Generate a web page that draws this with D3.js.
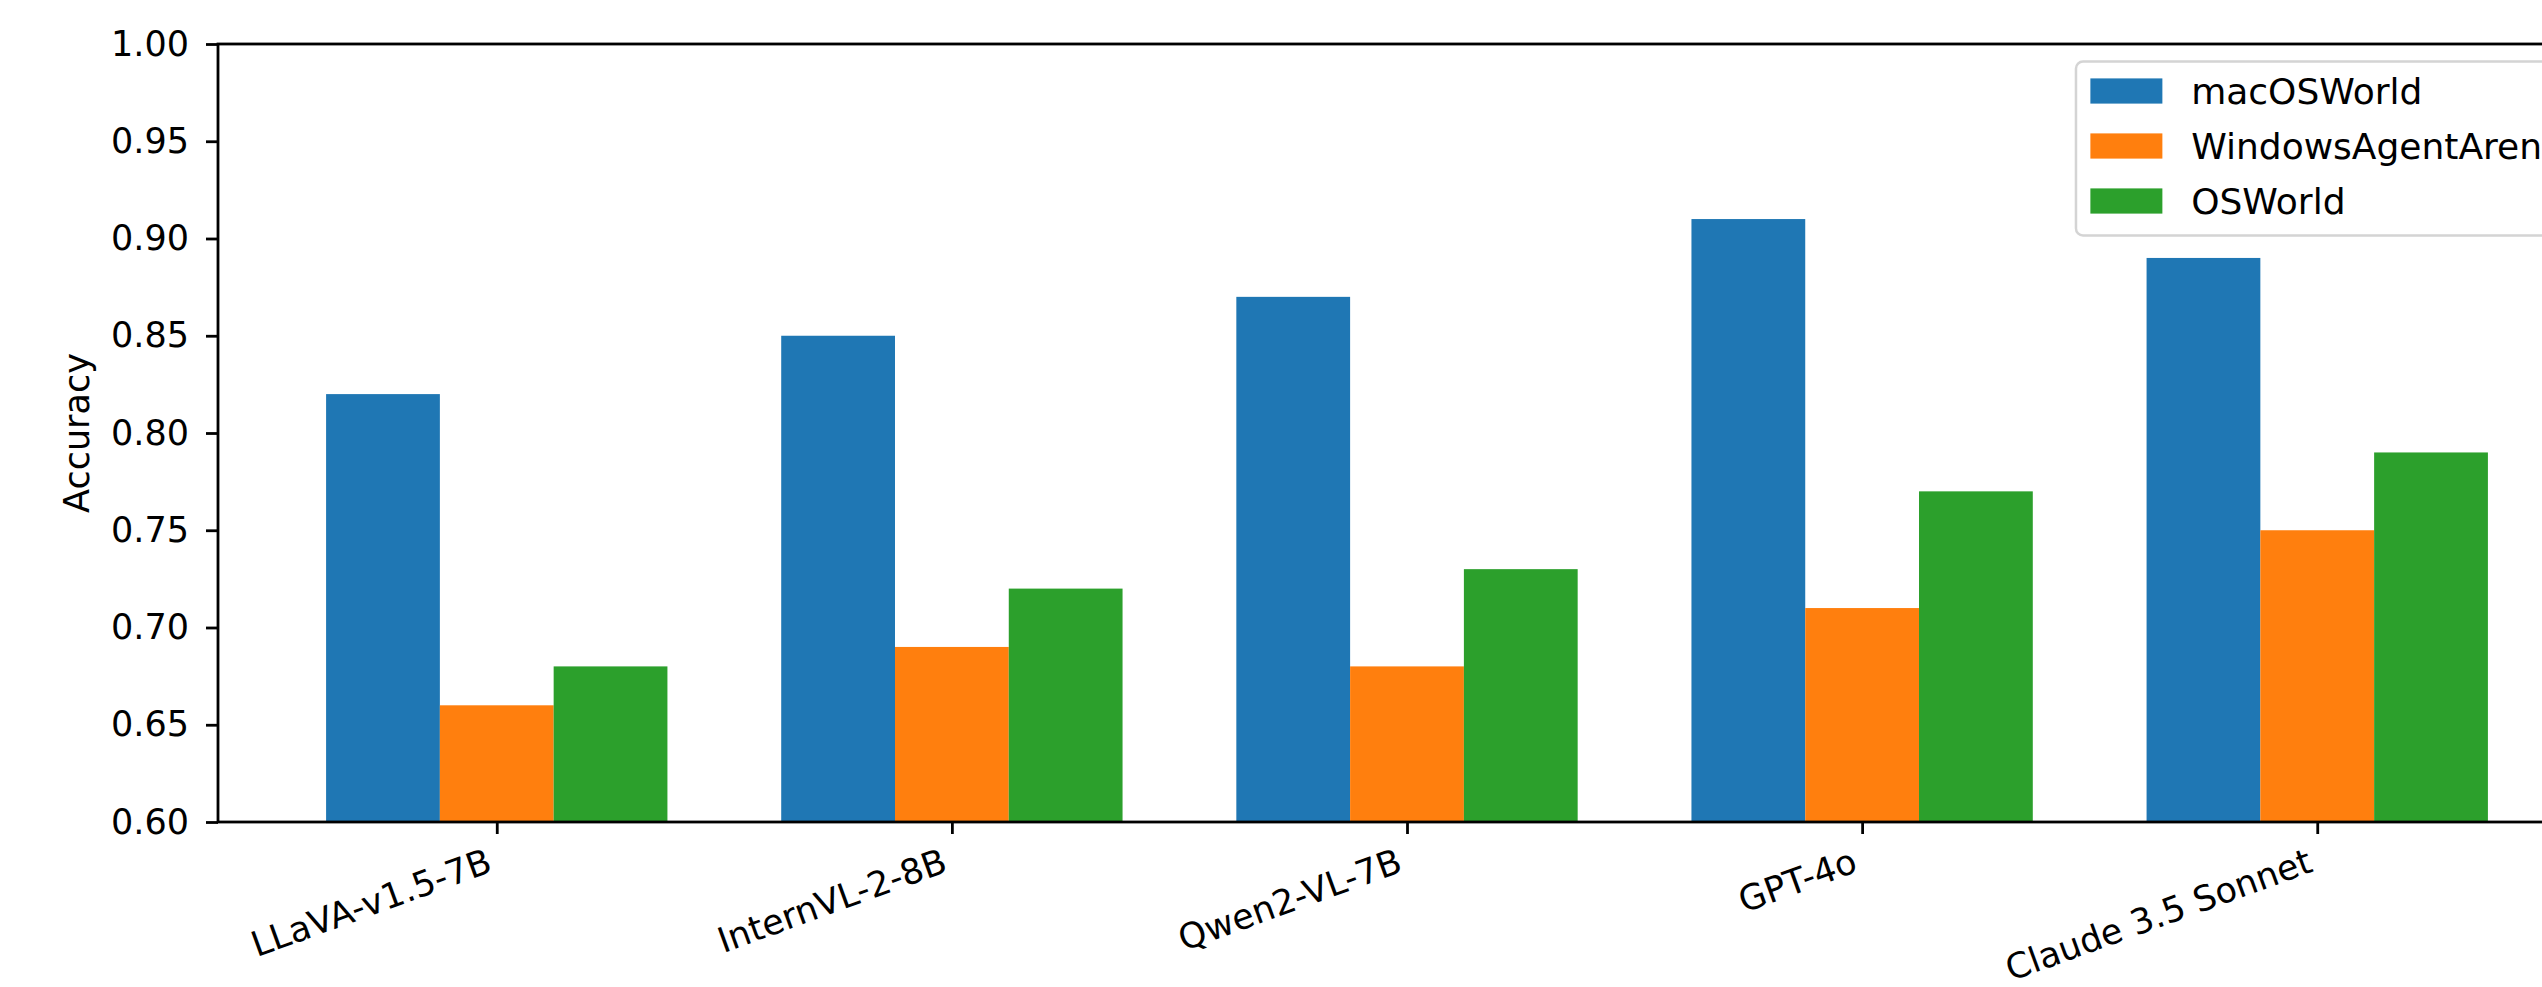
<!DOCTYPE html>
<html>
<head>
<meta charset="utf-8">
<script src="https://cdn.jsdelivr.net/npm/d3@7"></script>
<style>
  html, body { margin: 0; padding: 0; background: #fff; }
  svg { display: block; font-family: 'DejaVu Sans', sans-serif; }
</style>
</head>
<body>
<div id="chart"></div>
<script>
const models = ['LLaVA-v1.5-7B', 'InternVL-2-8B', 'Qwen2-VL-7B', 'GPT-4o', 'Claude 3.5 Sonnet']
const seriesNames = ['macOSWorld', 'WindowsAgentArena', 'OSWorld']
const macOSWorld = [0.82, 0.85, 0.87, 0.91, 0.89]
const windowsAgentArena = [0.66, 0.69, 0.68, 0.71, 0.75]
const osWorld = [0.68, 0.72, 0.73, 0.77, 0.79]
const yTicks = [0.60, 0.65, 0.70, 0.75, 0.80, 0.85, 0.90, 0.95, 1.00]

const seriesValues = [macOSWorld, windowsAgentArena, osWorld]
const colors = ['#1f77b4', '#ff7f0e', '#2ca02c']

const width = 2542
const height = 987
const fs = 35
const legFs = 36
const barWidth = 0.25

// axes box (right side runs off the picture, like the original crop)
const axLeft = 218, axRight = 2596, axTop = 44, axBottom = 822

const svg = d3.select('#chart')
  .append('svg')
  .attr('width', width)
  .attr('height', height)

// matplotlib style x limits: bar extent plus 5% margin
const xMin = -1.5 * barWidth, xMax = models.length - 1 + 1.5 * barWidth
const xPad = (xMax - xMin) * 0.05
const x = d3.scaleLinear()
  .domain([xMin - xPad, xMax + xPad])
  .range([axLeft, axRight])

const y = d3.scaleLinear()
  .domain([0.6, 1.0])
  .range([axBottom, axTop])

// bars
seriesValues.forEach((vals, k) => {
  svg.append('g')
    .selectAll('rect')
    .data(vals)
    .enter()
    .append('rect')
    .attr('x', (d, i) => x(i + (k - 1) * barWidth - barWidth / 2))
    .attr('width', x(barWidth) - x(0))
    .attr('y', d => y(d))
    .attr('height', d => y(0.6) - y(d))
    .style('fill', colors[k])
})

// y axis
const yAxis = d3.axisLeft(y)
  .tickValues(yTicks)
  .tickFormat(d3.format('.2f'))
  .tickSize(12)
  .tickPadding(17)

svg.append('g')
  .attr('transform', `translate(${axLeft},0)`)
  .call(yAxis)
  .call(g => g.select('.domain').remove())
  .call(g => g.selectAll('line').attr('stroke', '#000').attr('stroke-width', 2.8))
  .call(g => g.selectAll('text')
    .attr('fill', '#000')
    .style('font-size', fs + 'px')
    .style('font-family', 'DejaVu Sans'))

// x axis ticks (labels handled separately for the rotation)
const xAxis = d3.axisBottom(x)
  .tickValues(d3.range(models.length))
  .tickFormat('')
  .tickSize(12)

svg.append('g')
  .attr('transform', `translate(0,${axBottom})`)
  .call(xAxis)
  .call(g => g.select('.domain').remove())
  .call(g => g.selectAll('line').attr('stroke', '#000').attr('stroke-width', 2.8))

// rotated tick labels, right aligned under each tick
const theta = 20 * Math.PI / 180
const asc = 0.76 * fs, desc = 0.24 * fs
svg.append('g')
  .selectAll('text')
  .data(models)
  .enter()
  .append('text')
  .attr('text-anchor', 'end')
  .style('font-size', fs + 'px')
  .attr('fill', '#000')
  .attr('transform', (d, i) => {
    const tx = x(i) - desc * Math.sin(theta)
    const ty = axBottom + 12 + 12 + asc * Math.cos(theta)
    return `translate(${tx},${ty}) rotate(-20)`
  })
  .text(d => d)

// spines
svg.append('rect')
  .attr('x', axLeft)
  .attr('y', axTop)
  .attr('width', axRight - axLeft)
  .attr('height', axBottom - axTop)
  .attr('fill', 'none')
  .attr('stroke', '#000')
  .attr('stroke-width', 2.8)

// y label
svg.append('text')
  .attr('transform', `translate(${axLeft - 141},${(axTop + axBottom) / 2}) rotate(-90)`)
  .attr('text-anchor', 'middle')
  .attr('dy', '0.35em')
  .style('font-size', fs + 'px')
  .text('Accuracy')

// legend, upper right
const legend = svg.append('g')
const rowStep = 55
const handleW = 2 * legFs, handleH = 0.7 * legFs
const bpad = 0.4 * legFs
const tmp = legend.selectAll('text.tmp')
  .data(seriesNames)
  .enter()
  .append('text')
  .style('font-size', legFs + 'px')
  .text(d => d)
const textW = d3.max(tmp.nodes(), n => n.getComputedTextLength())
tmp.remove()

const legW = bpad * 2 + handleW + 0.8 * legFs + textW
const legH = 174
const legX = axRight - 0.5 * fs - legW
const legY = axTop + 0.5 * fs

legend.append('rect')
  .attr('x', legX)
  .attr('y', legY)
  .attr('width', legW)
  .attr('height', legH)
  .attr('rx', 7)
  .attr('fill', 'rgba(255,255,255,0.8)')
  .attr('stroke', '#d4d4d4')
  .attr('stroke-width', 2.5)

const rowY0 = legY + 29.5
legend.selectAll('rect.handle')
  .data(seriesNames)
  .enter()
  .append('rect')
  .attr('class', 'handle')
  .attr('x', legX + bpad)
  .attr('y', (d, i) => rowY0 + i * rowStep - handleH / 2)
  .attr('width', handleW)
  .attr('height', handleH)
  .style('fill', (d, i) => colors[i])

legend.selectAll('text.label')
  .data(seriesNames)
  .enter()
  .append('text')
  .attr('class', 'label')
  .attr('x', legX + bpad + handleW + 0.8 * legFs)
  .attr('y', (d, i) => rowY0 + i * rowStep)
  .attr('dy', '0.35em')
  .style('font-size', legFs + 'px')
  .text(d => d)
</script>
</body>
</html>
